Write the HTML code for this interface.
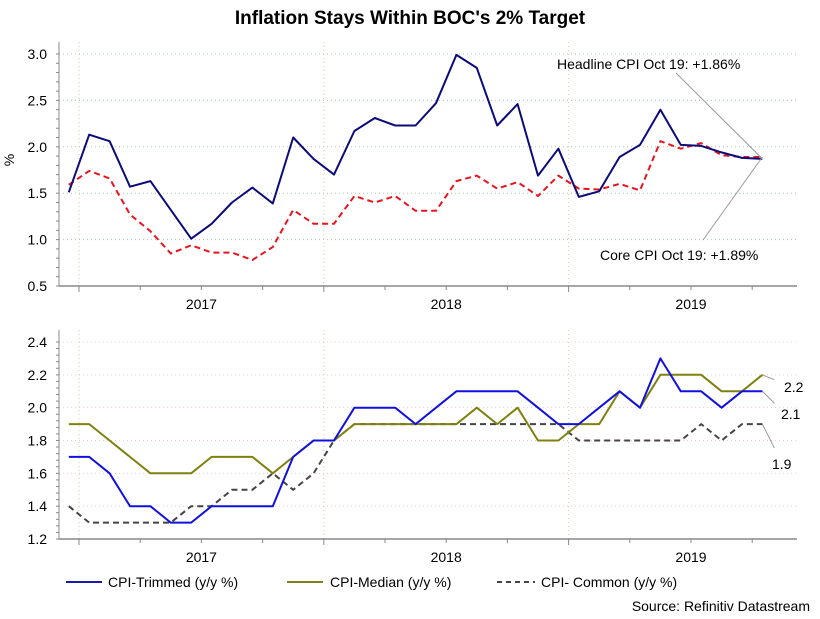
<!DOCTYPE html>
<html><head><meta charset="utf-8"><style>
body{margin:0;background:#fff;}
svg{display:block;font-family:"Liberation Sans",Arial,sans-serif;}
</style></head><body>
<svg id="chart" width="820" height="619" viewBox="0 0 820 619">
<text x="410" y="24" text-anchor="middle" font-size="19" font-weight="bold" fill="#000">Inflation Stays Within BOC's 2% Target</text>
<g id="top"></g><g id="bot"></g>
<text x="20" y="166" font-size="14" text-anchor="middle" transform="rotate(-90 14 166)">%</text>
<g>
<line x1="66" y1="582" x2="102" y2="582" stroke="#1a1aa8" stroke-width="2"/>
<text x="108" y="587" font-size="14">CPI-Trimmed (y/y %)</text>
<line x1="287" y1="582" x2="323" y2="582" stroke="#808020" stroke-width="2"/>
<text x="330" y="587" font-size="14">CPI-Median (y/y %)</text>
<line x1="497" y1="582" x2="535" y2="582" stroke="#444" stroke-width="2" stroke-dasharray="5,4"/>
<text x="541" y="587" font-size="14">CPI- Common (y/y %)</text>
</g>
<text x="810" y="611" text-anchor="end" font-size="14">Source: Refinitiv Datastream</text>
</svg>
<script>
const headline=[1.51,2.13,2.06,1.57,1.63,1.32,1.01,1.17,1.40,1.56,1.39,2.10,1.87,1.70,2.17,2.31,2.23,2.23,2.47,2.99,2.85,2.23,2.46,1.69,1.98,1.46,1.52,1.89,2.02,2.40,2.02,2.01,1.94,1.88,1.87];
const core=[1.59,1.74,1.66,1.27,1.09,0.85,0.94,0.86,0.86,0.78,0.92,1.32,1.17,1.17,1.47,1.40,1.47,1.31,1.31,1.63,1.69,1.55,1.62,1.47,1.69,1.55,1.54,1.60,1.53,2.06,1.98,2.04,1.91,1.89,1.89];
const trimmed=[1.7,1.7,1.6,1.4,1.4,1.3,1.3,1.4,1.4,1.4,1.4,1.7,1.8,1.8,2.0,2.0,2.0,1.9,2.0,2.1,2.1,2.1,2.1,2.0,1.9,1.9,2.0,2.1,2.0,2.3,2.1,2.1,2.0,2.1,2.1];
const median=[1.9,1.9,1.8,1.7,1.6,1.6,1.6,1.7,1.7,1.7,1.6,1.7,1.8,1.8,1.9,1.9,1.9,1.9,1.9,1.9,2.0,1.9,2.0,1.8,1.8,1.9,1.9,2.1,2.0,2.2,2.2,2.2,2.1,2.1,2.2];
const common=[1.4,1.3,1.3,1.3,1.3,1.3,1.4,1.4,1.5,1.5,1.6,1.5,1.6,1.8,1.9,1.9,1.9,1.9,1.9,1.9,1.9,1.9,1.9,1.9,1.9,1.8,1.8,1.8,1.8,1.8,1.8,1.9,1.8,1.9,1.9];
const years=["2017","2018","2019"];
const topTicks=[0.5,1.0,1.5,2.0,2.5,3.0];
const botTicks=[1.2,1.4,1.6,1.8,2.0,2.2,2.4];
const NS="http://www.w3.org/2000/svg";
const X0=59,X1=797,MONTH=20.4,JAN17=79;
function xm(i){return JAN17-MONTH/2+i*MONTH;} // i=0 -> Dec 2016
function mk(p,tag,a){const e=document.createElementNS(NS,tag);for(const k in a)e.setAttribute(k,a[k]);p.appendChild(e);return e;}
function panel(g,yT,yB,vMin,vMax,ticks,fmt,gridCol,minorStep){
  const y=v=>yB-(v-vMin)/(vMax-vMin)*(yB-yT);
  ticks.forEach(t=>{if(t>vMin){const l=mk(g,'line',{x1:X0,x2:X1,y1:y(t),y2:y(t),stroke:gridCol,'stroke-dasharray':'1,3'});

}
    const tx=mk(g,'text',{x:X0-12,y:y(t)+5,'text-anchor':'end','font-size':14});tx.textContent=fmt(t);

});
  for(let v=vMin;v<=vMax+1e-9;v+=minorStep){mk(g,'line',{x1:X0-3,x2:X0,y1:y(v),y2:y(v),stroke:'#888'});}
  for(let k=0;k<3;k++){const xv=JAN17+k*12*MONTH;const l=mk(g,'line',{x1:xv,x2:xv,y1:yT-12,y2:yB,stroke:'#cfcfa0','stroke-dasharray':'1,3'});

}
  mk(g,'line',{x1:X0,x2:X0,y1:yT-12,y2:yB,stroke:'#888'});
  mk(g,'line',{x1:X0,x2:X1,y1:yB,y2:yB,stroke:'#888',"stroke-width":1.5});
  for(let q=-1;q<12;q++){const xv=JAN17+q*3*MONTH;if(xv<X0||xv>X1)continue;mk(g,'line',{x1:xv,x2:xv,y1:yB,y2:yB+(q%4==0?6:4),stroke:'#888'});}
  years.forEach((yr,k)=>{const t=mk(g,'text',{x:JAN17+(k*12+6)*MONTH,y:yB+23,'text-anchor':'middle','font-size':14});t.textContent=yr;

});
  return y;
}
function series(g,data,y,col,w,dash,name){
  const pts=data.map((v,i)=>xm(i).toFixed(1)+','+y(v).toFixed(1)).join(' ');
  const p=mk(g,'polyline',{points:pts,fill:'none',stroke:col,'stroke-width':w,'stroke-linejoin':'round'});
  if(dash)p.setAttribute('stroke-dasharray',dash);


  return p;
}
const gt=document.getElementById('top'),gb=document.getElementById('bot');
const yt=panel(gt,54,286,0.5,3.0,topTicks,v=>v.toFixed(1),'#a8c8a8',0.1);
series(gt,core,yt,'#e8141e',2,'6,4','core-cpi-line');
series(gt,headline,yt,'#0b0b7a',2,null,'headline-cpi-line');
const lx=xm(34);
[[lx,yt(headline[34]),676,73],[lx,yt(core[34]),703,240]].forEach(a=>{const l=mk(gt,'line',{x1:a[0],y1:a[1],x2:a[2],y2:a[3],stroke:'#999'});

});
let t=mk(gt,'text',{x:557,y:69,'font-size':14});t.textContent='Headline CPI Oct 19: +'+headline[34].toFixed(2)+'%';
t.textContent='Headline CPI Oct 19: +1.86%';


t=mk(gt,'text',{x:600,y:260,'font-size':14});t.textContent='Core CPI Oct 19: +1.89%';


const yb=panel(gb,342,539,1.2,2.4,botTicks,v=>v.toFixed(1),'#f0c8c8',0.04);
series(gb,common,yb,'#444',2,'6,4','common-line');
series(gb,median,yb,'#808010',2,null,'median-line');
series(gb,trimmed,yb,'#1010e0',2,null,'trimmed-line');
[[median,2,0],[trimmed,2,27],[common,1.9,60]].forEach((a,k)=>{
  const v=a[0][34],x=xm(34),y=yb(v);
  const ly=[y+2,y+14,y+24][k];
  const l=mk(gb,'line',{x1:x,y1:y,x2:x+12,y2:y+([5,12,24][k]),stroke:'#999'});


  const tx=mk(gb,'text',{x:[784,781,772][k],y:[392,419,469][k],'font-size':14});tx.textContent=v.toFixed(1);


});
</script>
</body></html>
